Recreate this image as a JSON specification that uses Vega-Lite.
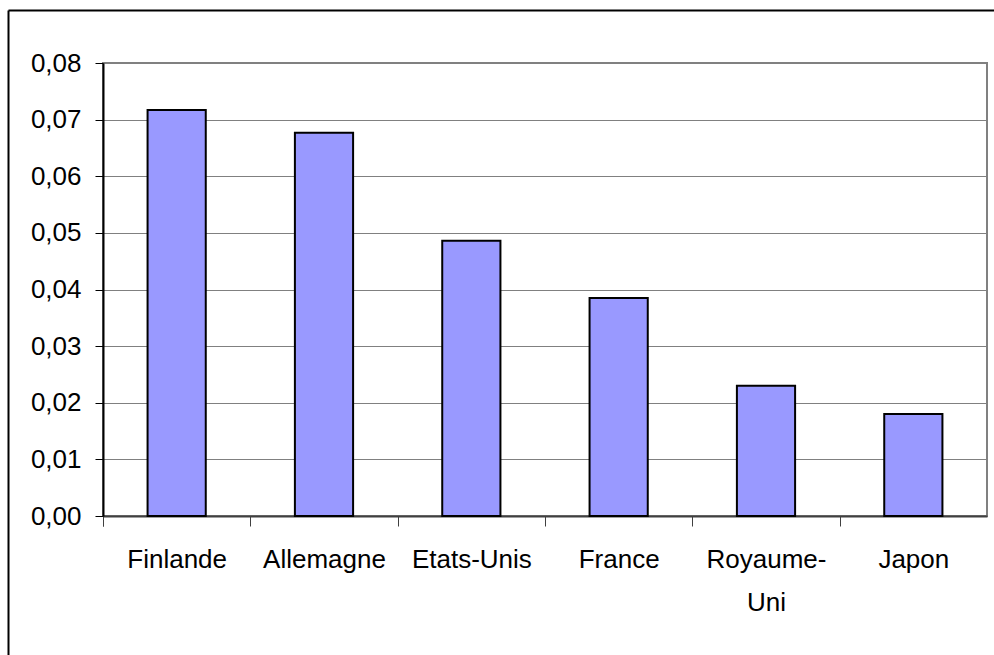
{
  "$schema": "https://vega.github.io/schema/vega-lite/v6.json",
  "width": 884,
  "height": 453,
  "autosize": {"type": "none"},
  "padding": {"left": 103, "top": 63, "right": 7, "bottom": 139},
  "background": "white",
  "config": {
    "view": {"stroke": "#808080", "strokeWidth": 2},
    "font": "Liberation Sans",
    "axis": {"labelFont": "Liberation Sans"}
  },
  "data": {
    "values": [
      {"pays": "Finlande", "valeur": 0.0717},
      {"pays": "Allemagne", "valeur": 0.0677},
      {"pays": "Etats-Unis", "valeur": 0.0486},
      {"pays": "France", "valeur": 0.0385},
      {"pays": "Royaume-Uni", "valeur": 0.0230},
      {"pays": "Japon", "valeur": 0.0180}
    ]
  },
  "layer": [
    {
      "mark": {"type": "bar", "fill": "#9999FF", "stroke": "black", "strokeWidth": 2},
      "encoding": {
        "x": {
          "field": "pays",
          "type": "nominal",
          "sort": null,
          "scale": {"paddingInner": 0.605, "paddingOuter": 0.3025},
          "axis": {
            "title": null,
            "labelAngle": 0,
            "labelFontSize": 26,
            "labelColor": "black",
            "labelPadding": 20,
            "labelLineHeight": 43,
            "labelLimit": 0,
            "labelExpr": "datum.value == 'Royaume-Uni' ? ['Royaume-', 'Uni'] : datum.label",
            "bandPosition": 0,
            "tickExtra": true,
            "tickOffset": -44.6,
            "labelOffset": 44.6,
            "tickSize": 10,
            "tickColor": "#404040",
            "tickWidth": 1,
            "domainColor": "#404040",
            "domainWidth": 2,
            "grid": false
          }
        },
        "y": {
          "field": "valeur",
          "type": "quantitative",
          "scale": {"domain": [0, 0.08], "nice": false},
          "axis": {
            "title": null,
            "values": [0, 0.01, 0.02, 0.03, 0.04, 0.05, 0.06, 0.07, 0.08],
            "format": ".2f",
            "labelExpr": "replace(datum.label, '.', ',')",
            "labelFontSize": 26,
            "labelColor": "black",
            "labelPadding": 14,
            "tickSize": 8,
            "tickColor": "black",
            "domainColor": "black",
            "domainWidth": 2,
            "grid": true,
            "gridColor": "#808080",
            "gridWidth": 1
          }
        }
      }
    },
    {
      "mark": {"type": "point", "opacity": 0},
      "encoding": {
        "x": {
          "field": "valeur",
          "type": "quantitative",
          "scale": {"domain": [0, 1], "range": [-95, 891]},
          "axis": {"orient": "top", "offset": 53, "domain": true, "domainColor": "black", "domainWidth": 2, "ticks": false, "labels": false, "grid": false, "title": null}
        },
        "y": {
          "field": "valeur",
          "type": "quantitative",
          "scale": {"domain": [0, 1], "range": [592, -53]},
          "axis": {"orient": "left", "offset": 95, "domain": true, "domainColor": "black", "domainWidth": 2, "ticks": false, "labels": false, "grid": false, "title": null}
        }
      }
    }
  ],
  "resolve": {
    "scale": {"x": "independent", "y": "independent"},
    "axis": {"x": "independent", "y": "independent"}
  }
}
